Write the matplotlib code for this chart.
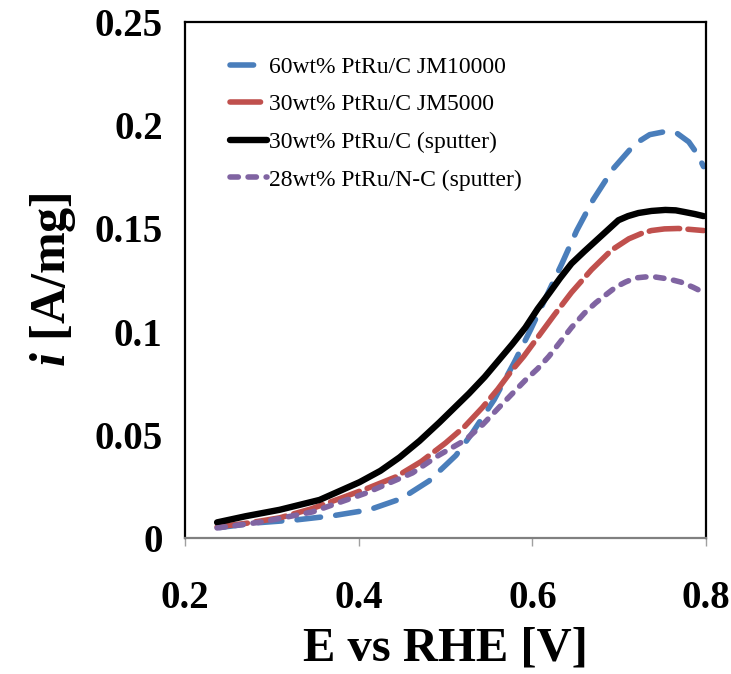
import numpy as np
import matplotlib
matplotlib.use("Agg")
import matplotlib.pyplot as plt

plt.rcParams['font.family'] = ['Liberation Serif', 'DejaVu Serif']
plt.rcParams['mathtext.fontset'] = 'custom'
plt.rcParams['mathtext.it'] = 'Liberation Serif:italic:bold'
plt.rcParams['mathtext.rm'] = 'Liberation Serif:bold'
plt.rcParams['lines.scale_dashes'] = False

# 60wt% PtRu/C JM10000
x_jm10 = [0.24, 0.283, 0.328, 0.37, 0.412, 0.449, 0.481, 0.512, 0.531, 0.556,
          0.579, 0.598, 0.616, 0.634, 0.651, 0.670, 0.693, 0.718, 0.735, 0.753,
          0.767, 0.78, 0.79, 0.797]
y_jm10 = [0.005, 0.0073, 0.0087, 0.0107, 0.0136, 0.019, 0.0276, 0.040, 0.051, 0.067,
          0.085, 0.101, 0.117, 0.133, 0.149, 0.164, 0.179, 0.191, 0.1955, 0.197,
          0.196, 0.192, 0.186, 0.180]

# 30wt% PtRu/C JM5000
x_jm5 = [0.237, 0.273, 0.309, 0.345, 0.378, 0.41, 0.443, 0.472, 0.50, 0.522, 0.542,
         0.56, 0.576, 0.59, 0.604, 0.625, 0.645, 0.668, 0.691, 0.711, 0.725,
         0.737, 0.752, 0.768, 0.783, 0.797]
y_jm5 = [0.0053, 0.0072, 0.0097, 0.014, 0.019, 0.024, 0.0296, 0.037, 0.046, 0.054, 0.063,
         0.072, 0.081, 0.088, 0.096, 0.108, 0.119, 0.130, 0.1395, 0.145, 0.1475,
         0.149, 0.1498, 0.150, 0.1495, 0.149]

# 30wt% PtRu/C (sputter)
x_sp = [0.237, 0.27, 0.309, 0.355, 0.401, 0.425, 0.447, 0.47, 0.493, 0.51, 0.527,
        0.545, 0.561, 0.577, 0.592, 0.606, 0.62, 0.632, 0.645, 0.66, 0.673, 0.686,
        0.699, 0.71, 0.722, 0.737, 0.753, 0.765, 0.775, 0.787, 0.797]
y_sp = [0.0075, 0.0105, 0.0136, 0.0184, 0.027, 0.0325, 0.039, 0.047, 0.056, 0.063, 0.070,
        0.078, 0.086, 0.094, 0.102, 0.111, 0.119, 0.126, 0.133, 0.139, 0.144, 0.149,
        0.154, 0.156, 0.1575, 0.1585, 0.159, 0.1588, 0.158, 0.157, 0.156]

# 28wt% PtRu/N-C (sputter)
x_nc = [0.237, 0.29, 0.347, 0.409, 0.462, 0.492, 0.523, 0.543, 0.561, 0.577, 0.592,
        0.606, 0.619, 0.632, 0.645, 0.66, 0.673, 0.685, 0.696, 0.707, 0.718,
        0.73, 0.741, 0.757, 0.771, 0.785, 0.797]
y_nc = [0.0048, 0.0078, 0.0126, 0.0218, 0.0315, 0.040, 0.0475, 0.055, 0.063, 0.070, 0.0765,
        0.082, 0.088, 0.095, 0.102, 0.109, 0.114, 0.118, 0.1216, 0.124, 0.126,
        0.1265, 0.1265, 0.1255, 0.124, 0.1215, 0.119]

labels = ["60wt% PtRu/C JM10000", "30wt% PtRu/C JM5000",
          "30wt% PtRu/C (sputter)", "28wt% PtRu/N-C (sputter)"]

fig = plt.figure(figsize=[7.31, 6.74], dpi=100)
ax = fig.add_axes([0.253, 0.202, 0.713, 0.765])

lw = 4.0
ax.plot(x_jm10, y_jm10, color="#4A7EBB", lw=lw, dashes=(17, 11),
        dash_capstyle="round", label=labels[0])
ax.plot(x_jm5, y_jm5, color="#C0504D", lw=lw, dashes=(22, 6),
        dash_capstyle="round", label=labels[1])
ax.plot(x_sp, y_sp, color="black", lw=lw + 0.6, solid_capstyle="round",
        label=labels[2])
ax.plot(x_nc, y_nc, color="#8064A2", lw=lw, dashes=(6, 7),
        dash_capstyle="round", label=labels[3])

ax.set_xlim(0.2, 0.8)
ax.set_ylim(0, 0.25)
ax.set_xticks([0.2, 0.4, 0.6, 0.8])
ax.set_xticklabels(["0.2", "0.4", "0.6", "0.8"])
ax.set_yticks([0, 0.05, 0.1, 0.15, 0.2, 0.25])
ax.set_yticklabels(["0", "0.05", "0.1", "0.15", "0.2", "0.25"])

for s in ["left", "top", "right"]:
    ax.spines[s].set_color("black")
    ax.spines[s].set_linewidth(1.6)
ax.spines["bottom"].set_color("#808080")
ax.spines["bottom"].set_linewidth(1.6)

ax.tick_params(axis="x", direction="out", length=6, width=1, color="#a0a0a0",
               pad=24, labelsize=28)
ax.tick_params(axis="y", length=0, pad=16, labelsize=28)
for t in ax.get_xticklabels() + ax.get_yticklabels():
    t.set_fontweight("bold")

ax.set_xlabel("E vs RHE [V]", fontsize=35, fontweight="bold", labelpad=7)
ax.set_ylabel(r"$i$ [A/mg]", fontsize=36, fontweight="bold", labelpad=12)

ax.legend(loc="upper left", bbox_to_anchor=(0.045, 0.975), frameon=False,
          fontsize=17, handlelength=1.6, handletextpad=0.05, labelspacing=0.68)

plt.savefig("out.png", dpi=100)
